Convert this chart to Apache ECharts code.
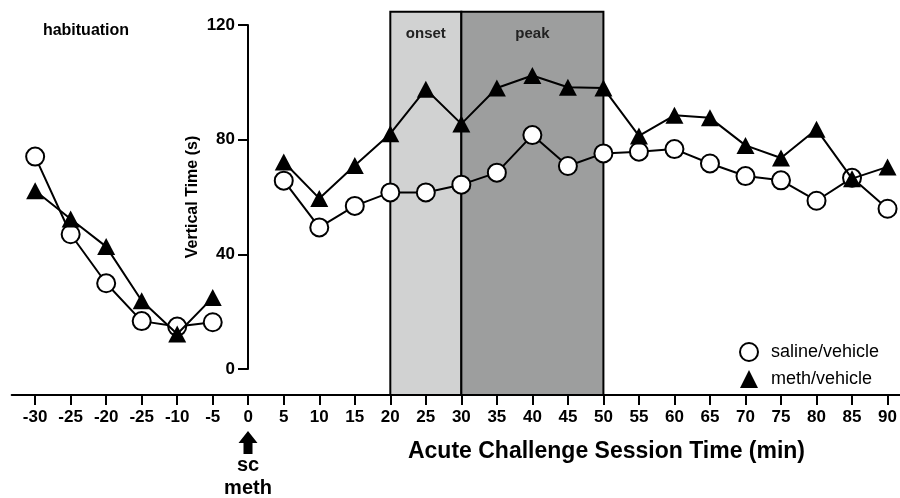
<!DOCTYPE html>
<html>
<head>
<meta charset="utf-8">
<script src="https://cdn.jsdelivr.net/npm/echarts@6/dist/echarts.min.js"></script>
<style>html,body{margin:0;padding:0;background:#fff;}#c{width:900px;height:498px;}</style>
</head>
<body>
<div id="c"></div>
<script>
// Tick labels (as printed on the original axis, including its "-25" typo)
const tickLabels = ['-30','-25','-20','-25','-10','-5','0','5','10','15','20','25','30','35','40','45','50','55','60','65','70','75','80','85','90'];
// Vertical time (s); '-' = no measurement at injection time 0
const saline = [74.1, 47.0, 29.9, 16.7, 14.8, 16.3, '-', 65.7, 49.4, 56.9, 61.6, 61.6, 64.3, 68.5, 81.6, 70.8, 75.2, 75.8, 76.7, 71.7, 67.3, 65.8, 58.7, 66.7, 55.9];
const meth   = [62.2, 52.3, 42.7, 23.8, 12.2, 24.9, '-', 72.2, 59.5, 71.0, 82.1, 97.6, 85.5, 98.0, 102.4, 98.3, 98.0, 81.3, 88.5, 87.6, 78.0, 73.6, 83.6, 66.4, 70.5];
const yTicks = [0, 40, 80, 120];
const onsetRange = ['20', '30'];
const peakRange = ['30', '50'];
const seriesNames = ['saline/vehicle', 'meth/vehicle'];

const zeroIdx = tickLabels.indexOf('0');
const toX = lbl => tickLabels.indexOf(lbl) - zeroIdx;
const xs = tickLabels.map((_, i) => i - zeroIdx);
const FONT = '"Liberation Sans", Arial, sans-serif';

const chart = echarts.init(document.getElementById('c'), null, {renderer: 'canvas'});
chart.setOption({
  animation: false,
  backgroundColor: '#fff',
  grid: [
    {left: 11.7, right: 0, top: 11.8, bottom: 103},
    {left: 248, width: 10, top: 25, bottom: 129}
  ],
  xAxis: [
    {
      type: 'value', gridIndex: 0, min: -6.66, max: 18.35,
      axisLine: {show: true, onZero: false, lineStyle: {color: '#000', width: 2}},
      axisTick: {show: true, customValues: xs, length: 10, lineStyle: {color: '#000', width: 2}},
      axisLabel: {
        customValues: xs, margin: 14,
        color: '#000', fontWeight: 'bold', fontSize: 17, fontFamily: FONT,
        formatter: v => tickLabels[Math.round(v) + zeroIdx]
      },
      splitLine: {show: false}
    },
    {type: 'value', gridIndex: 1, show: false, min: 0, max: 1}
  ],
  yAxis: [
    {type: 'value', gridIndex: 0, min: -9.07, max: 124.6, show: false},
    {
      type: 'value', gridIndex: 1, min: yTicks[0], max: yTicks[yTicks.length - 1], interval: 40,
      position: 'left',
      name: 'Vertical Time (s)', nameLocation: 'middle', nameGap: 47, nameRotate: 90,
      nameTextStyle: {color: '#000', fontWeight: 'bold', fontSize: 16, fontFamily: FONT},
      axisLine: {show: true, lineStyle: {color: '#000', width: 2}},
      axisTick: {show: true, length: 10, lineStyle: {color: '#000', width: 2}},
      axisLabel: {margin: 13, color: '#000', fontWeight: 'bold', fontSize: 17, fontFamily: FONT},
      splitLine: {show: false}
    }
  ],
  legend: {
    orient: 'vertical', left: 734, top: 337, itemWidth: 18, itemHeight: 18, itemGap: 8,
    textStyle: {color: '#000', fontSize: 18, fontFamily: FONT, padding: [0, 0, 0, 8]},
    data: [
      {name: seriesNames[0], icon: 'circle'},
      {name: seriesNames[1], icon: 'triangle'}
    ]
  },
  series: [
    {
      type: 'line', name: '_areas', xAxisIndex: 0, yAxisIndex: 0, data: [], z: 1,
      markArea: {
        silent: true,
        data: [
          [{xAxis: toX(onsetRange[0]), yAxis: 'min', name: 'onset',
            itemStyle: {color: '#d1d2d2', borderColor: '#000', borderWidth: 2}},
           {xAxis: toX(onsetRange[1]), yAxis: 'max'}],
          [{xAxis: toX(peakRange[0]), yAxis: 'min', name: 'peak',
            itemStyle: {color: '#9d9e9e', borderColor: '#000', borderWidth: 2}},
           {xAxis: toX(peakRange[1]), yAxis: 'max'}]
        ],
        label: {show: true, position: 'insideTop', distance: 16, color: '#222', fontWeight: 'bold', fontSize: 15, fontFamily: FONT}
      }
    },
    {
      type: 'line', name: seriesNames[0], xAxisIndex: 0, yAxisIndex: 0, z: 3,
      data: saline.map((v, i) => [xs[i], v]),
      connectNulls: false,
      symbol: 'circle', symbolSize: 18,
      lineStyle: {color: '#000', width: 2},
      itemStyle: {color: '#fff', borderColor: '#000', borderWidth: 2}
    },
    {
      type: 'line', name: seriesNames[1], xAxisIndex: 0, yAxisIndex: 0, z: 4,
      data: meth.map((v, i) => [xs[i], v]),
      connectNulls: false,
      symbol: 'triangle', symbolSize: [18, 17],
      lineStyle: {color: '#000', width: 2},
      itemStyle: {color: '#000', borderColor: '#000', borderWidth: 0}
    }
  ],
  graphic: [
    {type: 'text', x: 86, y: 31, style: {text: 'habituation', align: 'center', verticalAlign: 'middle', fill: '#000', font: 'bold 16px ' + FONT}},
    {type: 'polygon', shape: {points: [[248, 431], [257.5, 443], [252.5, 443], [252.5, 454], [243.5, 454], [243.5, 443], [238.5, 443]]}, style: {fill: '#000'}},
    {type: 'text', x: 248, y: 465, style: {text: 'sc', align: 'center', verticalAlign: 'middle', fill: '#000', font: 'bold 20px ' + FONT}},
    {type: 'text', x: 248, y: 488, style: {text: 'meth', align: 'center', verticalAlign: 'middle', fill: '#000', font: 'bold 20px ' + FONT}},
    {type: 'text', x: 606.5, y: 452, style: {text: 'Acute Challenge Session Time (min)', align: 'center', verticalAlign: 'middle', fill: '#000', font: 'bold 23px ' + FONT}}
  ]
});
</script>
</body>
</html>
